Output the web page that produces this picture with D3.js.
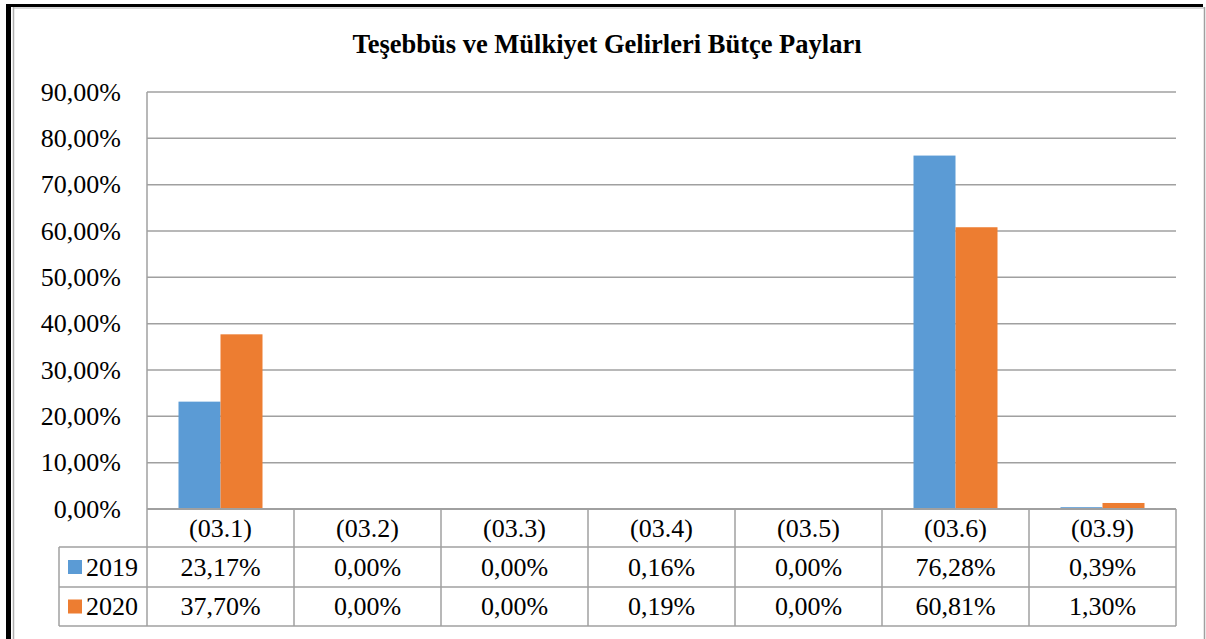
<!DOCTYPE html>
<html>
<head>
<meta charset="utf-8">
<script src="https://cdn.jsdelivr.net/npm/d3@7"></script>
<style>
  body { margin: 0; background: #fff; }
</style>
</head>
<body>
<div id="chart"></div>
<script>
var categories = ["(03.1)", "(03.2)", "(03.3)", "(03.4)", "(03.5)", "(03.6)", "(03.9)"];
var years = ["2019", "2020"];
var values2019 = [23.17, 0.00, 0.00, 0.16, 0.00, 76.28, 0.39];
var values2020 = [37.70, 0.00, 0.00, 0.19, 0.00, 60.81, 1.30];
var yTicks = [0, 10, 20, 30, 40, 50, 60, 70, 80, 90];
var colors = ["#5B9BD5", "#ED7D31"];

function init(){
    var w = 1206, h = 639;
    var series = [values2019, values2020];
    var fmt = function(v){ return v.toFixed(2).replace(".", ",") + "%"; };

    var svg = d3.select("#chart").append("svg")
                .attr("width", w)
                .attr("height", h);

    svg.append("rect").attr("width", w).attr("height", h).attr("fill", "#fff");

    // frame
    svg.append("rect").attr("x", 6).attr("y", 4).attr("width", 1197).attr("height", 3).attr("fill", "#000");
    svg.append("rect").attr("x", 6).attr("y", 4).attr("width", 5).attr("height", h - 4).attr("fill", "#000");
    svg.append("line").attr("x1", 13.5).attr("x2", 13.5).attr("y1", 7).attr("y2", h)
        .attr("stroke", "#b0b0b0").attr("stroke-width", 1.5);
    svg.append("line").attr("x1", 13).attr("x2", 1204).attr("y1", 8).attr("y2", 8)
        .attr("stroke", "#b0b0b0").attr("stroke-width", 1);
    svg.append("line").attr("x1", 1204.5).attr("x2", 1204.5).attr("y1", 7).attr("y2", h)
        .attr("stroke", "#a0a0a0").attr("stroke-width", 1.5);

    svg.append("text")
        .attr("x", 607).attr("y", 53)
        .attr("text-anchor", "middle")
        .attr("font-size", 26.5)
        .attr("font-weight", "bold")
        .text("Teşebbüs ve Mülkiyet Gelirleri Bütçe Payları");

    var left = 147, right = 1176, top = 92, bottom = 509;
    var rowH = [509, 547, 587, 626];

    var x = d3.scaleBand().domain(categories).range([left, right]);
    var xs = d3.scaleBand().domain(years).range([0, x.bandwidth()])
                .paddingInner(0).paddingOuter(0.75);
    var y = d3.scaleLinear().domain([0, 90]).range([bottom, top]);

    // gridlines
    svg.append("g").selectAll("line").data(yTicks).enter().append("line")
        .attr("x1", left).attr("x2", right)
        .attr("y1", function(d){ return y(d); })
        .attr("y2", function(d){ return y(d); })
        .attr("stroke", "#a0a0a0").attr("stroke-width", 1.5);

    // y tick labels
    svg.append("g").selectAll("text").data(yTicks).enter().append("text")
        .attr("x", 121)
        .attr("y", function(d){ return y(d); })
        .attr("dy", "0.33em")
        .attr("text-anchor", "end")
        .attr("font-size", 26)
        .text(function(d){ return d.toFixed(2).replace(".", ",") + "%"; });

    // bars
    var groups = svg.append("g").selectAll("g").data(categories).enter().append("g")
        .attr("transform", function(d){ return "translate(" + x(d) + ",0)"; });
    groups.selectAll("rect")
        .data(function(d, i){ return years.map(function(yr, k){ return {year: yr, k: k, v: series[k][i]}; }); })
        .enter().append("rect")
        .attr("x", function(d){ return xs(d.year); })
        .attr("width", xs.bandwidth())
        .attr("y", function(d){ return y(d.v); })
        .attr("height", function(d){ return bottom - y(d.v); })
        .attr("fill", function(d){ return colors[d.k]; });

    // data table
    var lineC = "#a0a0a0";
    var tg = svg.append("g");
    tg.append("line").attr("x1", left).attr("x2", left).attr("y1", top).attr("y2", rowH[3])
        .attr("stroke", lineC).attr("stroke-width", 1.5);
    tg.append("line").attr("x1", left).attr("x2", right).attr("y1", rowH[0]).attr("y2", rowH[0])
        .attr("stroke", lineC).attr("stroke-width", 2);
    [1, 2, 3].forEach(function(r){
        tg.append("line").attr("x1", 59).attr("x2", right).attr("y1", rowH[r]).attr("y2", rowH[r])
            .attr("stroke", lineC).attr("stroke-width", 1.5);
    });
    tg.append("line").attr("x1", 59).attr("x2", 59).attr("y1", rowH[1]).attr("y2", rowH[3])
        .attr("stroke", lineC).attr("stroke-width", 1.5);
    tg.selectAll("line.col").data(categories).enter().append("line")
        .attr("class", "col")
        .attr("x1", function(d){ return x(d) + x.bandwidth(); })
        .attr("x2", function(d){ return x(d) + x.bandwidth(); })
        .attr("y1", rowH[0]).attr("y2", rowH[3])
        .attr("stroke", lineC).attr("stroke-width", 1.5);

    tg.selectAll("text.cat").data(categories).enter().append("text")
        .attr("class", "cat")
        .attr("x", function(d){ return x(d) + x.bandwidth() / 2; })
        .attr("y", (rowH[0] + rowH[1]) / 2)
        .attr("dy", "0.33em")
        .attr("text-anchor", "middle")
        .attr("font-size", 26)
        .text(function(d){ return d; });

    years.forEach(function(yr, k){
        var cy = (rowH[k + 1] + rowH[k + 2]) / 2;
        tg.append("rect").attr("x", 68).attr("y", cy - 7).attr("width", 14).attr("height", 14)
            .attr("fill", colors[k]);
        tg.append("text").attr("x", 86).attr("y", cy).attr("dy", "0.33em")
            .attr("font-size", 26).text(yr);
        tg.selectAll("text.v" + k).data(series[k]).enter().append("text")
            .attr("class", "v" + k)
            .attr("x", function(d, i){ return x(categories[i]) + x.bandwidth() / 2; })
            .attr("y", cy)
            .attr("dy", "0.33em")
            .attr("text-anchor", "middle")
            .attr("font-size", 26)
            .text(fmt);
    });

    svg.selectAll("text")
        .style("font-family", "Liberation Serif")
        .attr("fill", "#000");
}

init();
</script>
</body>
</html>
